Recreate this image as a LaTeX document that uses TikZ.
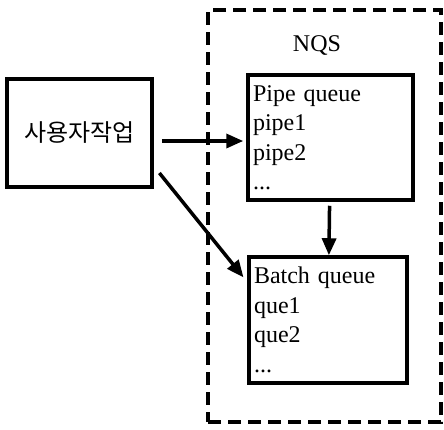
\documentclass[tikz,border=0pt]{standalone}
\usepackage{fontspec}
\setmainfont{Liberation Serif}[WordSpace=1.8]
\newfontfamily\krfont{Noto Sans CJK KR}
\usetikzlibrary{arrows.meta,positioning}
\tikzset{
  >={Triangle[length=17pt,width=14pt]},
  jobbox/.style ={draw, line width=3.5pt, minimum width=145pt, minimum height=108pt, font=\krfont\fontsize{24}{28}\selectfont},
  qbox/.style   ={draw, line width=3.5pt, align=left, inner xsep=5pt, font=\fontsize{24}{29.5}\selectfont},
  grp/.style    ={draw, line width=3.5pt, dash pattern=on 13pt off 7pt},
  arr/.style    ={->, line width=3.5pt}
}
\begin{document}
\begin{tikzpicture}[x=1pt,y=-1pt]
\useasboundingbox (0,0) rectangle (444,429);
\node[grp, minimum width=233pt, minimum height=412pt] (nqs) at (324.5,216) {};
\node[font=\fontsize{24}{28}\selectfont] (nqslbl) at (317,45) {NQS};
\node[jobbox] (job) at (79.5,133) {사용자작업};
\node[qbox, text width=155pt, minimum height=125pt] (pipe) at (330.5,137.5)
  {Pipe queue\\pipe1\\pipe2\\...};
\node[qbox, text width=148pt, minimum height=126pt] (batch) at (328,320)
  {Batch queue\\que1\\que2\\...};
\draw[arr, shorten <=8pt, shorten >=3pt] ([yshift=-8pt]job.east) -- ([yshift=-8pt]job.east -| pipe.west);
\draw[arr, shorten <=9pt, shorten >=6pt] ([yshift=-33pt]job.east) -- ([yshift=38pt]batch.west);
\draw[arr, shorten <=4pt] (pipe) -- (batch);
\end{tikzpicture}
\end{document}
